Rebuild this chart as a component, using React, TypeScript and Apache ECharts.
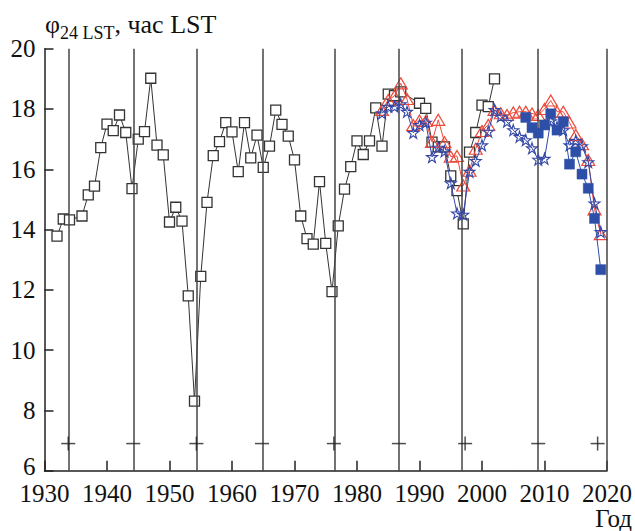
import React, { useEffect, useRef } from "react";
import * as echarts from "echarts";

// Open black squares (years, values)
const sqYears = [1932,1933,1934,1936,1937,1938,1939,1940,1941,1942,1943,1944,1945,1946,1947,1948,1949,1950,1951,1952,1953,1954,1955,1956,1957,1958,1959,1960,1961,1962,1963,1964,1965,1966,1967,1968,1969,1970,1971,1972,1973,1974,1975,1976,1977,1978,1979,1980,1981,1982,1983,1984,1985,1986,1987,1990,1991,1992,1993,1994,1995,1996,1997,1998,1999,2000,2001,2002];
const sqValues = [13.78,14.35,14.32,14.45,15.15,15.44,16.72,17.5,17.28,17.8,17.22,15.36,17.0,17.25,19.02,16.8,16.48,14.25,14.74,14.28,11.8,8.31,12.45,14.9,16.45,16.92,17.55,17.24,15.92,17.55,16.38,17.13,16.06,16.77,17.96,17.49,17.1,16.31,14.45,13.7,13.52,15.59,13.54,11.94,14.12,15.34,16.09,16.94,16.49,16.94,18.04,16.77,18.49,18.44,18.57,18.19,18.02,16.9,16.74,16.74,15.78,15.29,14.19,16.57,17.22,18.13,18.08,19.0];

// Red open triangles and blue open stars, 1984-2019
const modelYears = [1984,1985,1986,1987,1988,1989,1990,1991,1992,1993,1994,1995,1996,1997,1998,1999,2000,2001,2002,2003,2004,2005,2006,2007,2008,2009,2010,2011,2012,2013,2014,2015,2016,2017,2018,2019];
const triValues = [17.97,18.3,18.43,18.85,18.33,17.47,17.62,17.6,16.91,17.64,16.9,16.42,16.44,15.46,15.95,16.68,17.27,17.47,17.97,17.86,17.8,17.88,17.91,17.91,17.85,17.8,18.0,18.28,17.91,17.91,17.55,17.14,16.83,16.31,14.67,13.85];
const starValues = [17.86,18.08,18.08,18.16,17.91,17.21,17.47,17.55,16.41,16.72,16.6,15.54,14.54,14.5,15.92,16.28,16.8,17.25,17.97,17.75,17.58,17.3,17.08,16.97,16.7,16.32,16.35,17.6,17.4,17.3,16.8,16.95,16.77,16.24,14.87,13.92];

// Blue filled squares, 2007-2019
const fillYears = [2007,2008,2009,2010,2011,2012,2013,2014,2015,2016,2017,2018,2019];
const fillValues = [17.72,17.38,17.2,17.47,17.84,17.3,17.58,16.17,16.58,15.84,15.37,14.37,12.67];

// Solar minima vertical lines
const minimaYears = [1933.9,1944.2,1954.35,1964.85,1976.4,1986.7,1996.7,2008.9,2019.9];
// Sign marks near the bottom
const plusYears = [1933.8,1954.3,1976.3,1997.3,2018.5];
const minusYears = [1944.2,1964.8,1986.7,2009.0];
const signLevel = 6.9;

const xTicks = [1930,1940,1950,1960,1970,1980,1990,2000,2010,2020];
const yTicks = [6,8,10,12,14,16,18,20];

const FONT = "Liberation Serif";

function zip(xs: number[], ys: number[]) {
  return xs.map((x, i) => [x, ys[i]]);
}

export default function App() {
  const ref = useRef<HTMLDivElement>(null);
  useEffect(() => {
    if (!ref.current) return;
    const chart = echarts.init(ref.current, undefined, { renderer: "svg" });
    const blue = "#3548a8";
    const red = "#ee4a3a";
    chart.setOption({
      animation: false,
      backgroundColor: "#ffffff",
      textStyle: { fontFamily: FONT },
      grid: { left: 44.5, right: 26, top: 48.7, bottom: 60.3, containLabel: false },
      xAxis: {
        type: "value",
        min: xTicks[0],
        max: xTicks[xTicks.length - 1],
        interval: 10,
        axisLine: { show: true, lineStyle: { color: "#222", width: 1.5 } },
        axisTick: { show: true, inside: true, length: 10, lineStyle: { color: "#222", width: 1.5 } },
        axisLabel: { color: "#111", fontFamily: FONT, fontSize: 25, lineHeight: 22, margin: 12, formatter: (v: number) => String(v) },
        splitLine: { show: false },
      },
      yAxis: {
        type: "value",
        min: yTicks[0],
        max: yTicks[yTicks.length - 1],
        interval: 2,
        axisLine: { show: true, lineStyle: { color: "#222", width: 1.5 } },
        axisTick: { show: true, inside: true, length: 9, lineStyle: { color: "#222", width: 1.5 } },
        axisLabel: {
          color: "#111",
          fontFamily: FONT,
          fontSize: 25,
          lineHeight: 22,
          margin: 9,
          formatter: (v: number) => (v === yTicks[0] ? "{low|" + v + "}" : String(v)),
          rich: {
            low: { fontFamily: FONT, fontSize: 25, lineHeight: 20, color: "#111", padding: [0, 0, 8, 0] },
          },
        },
        splitLine: { show: false },
      },
      graphic: [
        {
          type: "text",
          left: 45,
          top: 11,
          style: {
            text: "{m|φ}{s|24 LST}{m|, час LST}",
            rich: {
              m: { fontFamily: FONT, fontSize: 26, fill: "#111", verticalAlign: "bottom", lineHeight: 28 },
              s: { fontFamily: FONT, fontSize: 18, fill: "#111", verticalAlign: "bottom", lineHeight: 28, padding: [0, 0, -5, 0] },
            },
          },
        },
        {
          type: "text",
          right: 3,
          top: 506,
          style: { text: "Год", fontFamily: FONT, fontSize: 25, fill: "#111" },
        },
      ],
      series: [
        {
          type: "line",
          data: [],
          silent: true,
          markLine: {
            silent: true,
            symbol: ["none", "none"],
            label: { show: false },
            lineStyle: { color: "#444", width: 1.5, type: "solid" },
            data: minimaYears.map((y) => ({ xAxis: y })),
          },
        },
        {
          type: "line",
          data: zip(sqYears, sqValues),
          symbol: "rect",
          symbolSize: 10,
          itemStyle: { color: "#fff", borderColor: "#333", borderWidth: 1.3 },
          lineStyle: { color: "#333", width: 1 },
          z: 3,
        },
        {
          type: "line",
          data: zip(modelYears, triValues),
          symbol: "triangle",
          symbolSize: [13, 11],
          itemStyle: { color: "rgba(255,255,255,0)", borderColor: red, borderWidth: 1.2 },
          lineStyle: { color: red, width: 1 },
          z: 4,
        },
        {
          type: "line",
          data: zip(modelYears, starValues),
          symbol: "path://M50,0 L61.8,36.2 L100,36.2 L69.1,58.6 L80.9,95 L50,72.6 L19.1,95 L30.9,58.6 L0,36.2 L38.2,36.2 Z",
          symbolSize: 11,
          itemStyle: { color: "rgba(255,255,255,0)", borderColor: blue, borderWidth: 1.1 },
          lineStyle: { color: blue, width: 1 },
          z: 5,
        },
        {
          type: "line",
          data: zip(fillYears, fillValues),
          symbol: "rect",
          symbolSize: 10,
          itemStyle: { color: "#2d4fa8", borderColor: "#2d4fa8", borderWidth: 0.5 },
          lineStyle: { color: "#2d4fa8", width: 1 },
          z: 6,
        },
        {
          type: "scatter",
          data: plusYears.map((y) => [y, signLevel]).concat(minusYears.map((y) => [y, signLevel])),
          symbol: "rect",
          symbolSize: [14, 1.5],
          itemStyle: { color: "#222" },
          z: 7,
        },
        {
          type: "scatter",
          data: plusYears.map((y) => [y, signLevel]),
          symbol: "rect",
          symbolSize: [1.5, 14],
          itemStyle: { color: "#222" },
          z: 7,
        },
      ],
    });
    return () => chart.dispose();
  }, []);
  return (
    <div
      ref={ref}
      style={{ position: "fixed", left: 0, top: 0, width: 635, height: 531, background: "#fff" }}
    />
  );
}
